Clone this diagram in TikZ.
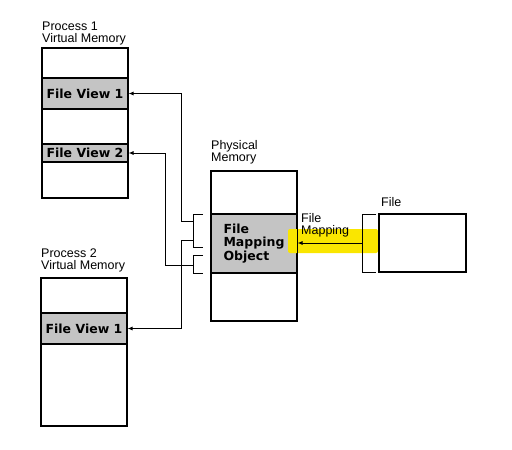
\documentclass[tikz,border=0pt]{standalone}
\usepackage{fontspec}
\setmainfont{Liberation Sans}
\newfontfamily\viewfont{DejaVu Sans}
\usetikzlibrary{arrows.meta}
\definecolor{dither}{RGB}{196,196,196}
\definecolor{marker}{RGB}{250,230,0}

\begin{document}
\begin{tikzpicture}[x=1pt, y=-1pt,
		memory/.style={draw, line width=1.1pt, fill=white, inner sep=0pt},
		band/.style={draw, line width=1.1pt, fill=dither, inner sep=0pt, font=\viewfont\bfseries\fontsize{12.5}{13.5}\selectfont},
		lbl/.style={anchor=base west, inner sep=0pt, align=left, font=\fontsize{12.5}{12}\selectfont},
		link/.style={line width=0.9pt, -{Latex[length=5pt,width=4pt]}},
		clamp/.style={line width=0.9pt}]
			%%%%% START %%%%%
			\useasboundingbox (0,0) rectangle (512,450);
			
			% process 1
			\node[lbl] (p1lbl) at (42,42) {Process 1\\Virtual Memory};
			\node[memory, minimum width=86pt, minimum height=150pt] (proc1) at (85,123) {};
			\node[band, minimum width=86pt, minimum height=31pt] (p1v1) at (85,93.5) {File View 1};
			\node[band, minimum width=86pt, minimum height=18pt] (p1v2) at (85,153) {File View 2};
			
			% process 2
			\node[lbl] (p2lbl) at (41,269) {Process 2\\Virtual Memory};
			\node[memory, minimum width=86pt, minimum height=148pt] (proc2) at (84,352) {};
			\node[band, minimum width=86pt, minimum height=31pt] (p2v1) at (84,328.5) {File View 1};
			
			% physical memory
			\node[lbl] (physlbl) at (211,161) {Physical\\Memory};
			\node[memory, minimum width=86pt, minimum height=150pt] (phys) at (254,246) {};
			\node[band, align=left, minimum width=86pt, minimum height=59pt] (fmo) at (254,243.5) {File\\Mapping\\Object};
			\fill[marker, rounded corners=2pt] (288,229) rectangle (378,253);
			\draw[line width=1.1pt] (phys.north east) -- (phys.south east);
			\node[lbl] (maplbl) at (301,234) {File\\Mapping};
			
			% file
			\node[lbl] (filelbl) at (381,206) {File};
			\node[memory, minimum width=87pt, minimum height=58pt] (file) at (422.5,243) {};
			
			% brackets
			\draw[clamp] (203,214) -- (193,214) -- (193,247) -- (203,247);
			\draw[clamp] (203,255) -- (193,255) -- (193,273) -- (203,273);
			\draw[clamp] (376,214) -- (362,214) -- (362,272) -- (376,272);
			\coordinate (j1) at (193,221);
			\coordinate (j2) at (193,265);
			\coordinate (j3) at (193,240);
			\coordinate (j4) at (362,243);
			
			% views
			\draw[link] (j1) -- ++(-12,0) |- (p1v1.east);
			\draw[link] (j2) -- ++(-28,0) |- (p1v2.east);
			\draw[link] (j3) -- ++(-12,0) |- (p2v1.east);
			\draw[link] (j4) -- (fmo.east |- j4);
			
			%%%%% END %%%%%
		\end{tikzpicture}
\end{document}
